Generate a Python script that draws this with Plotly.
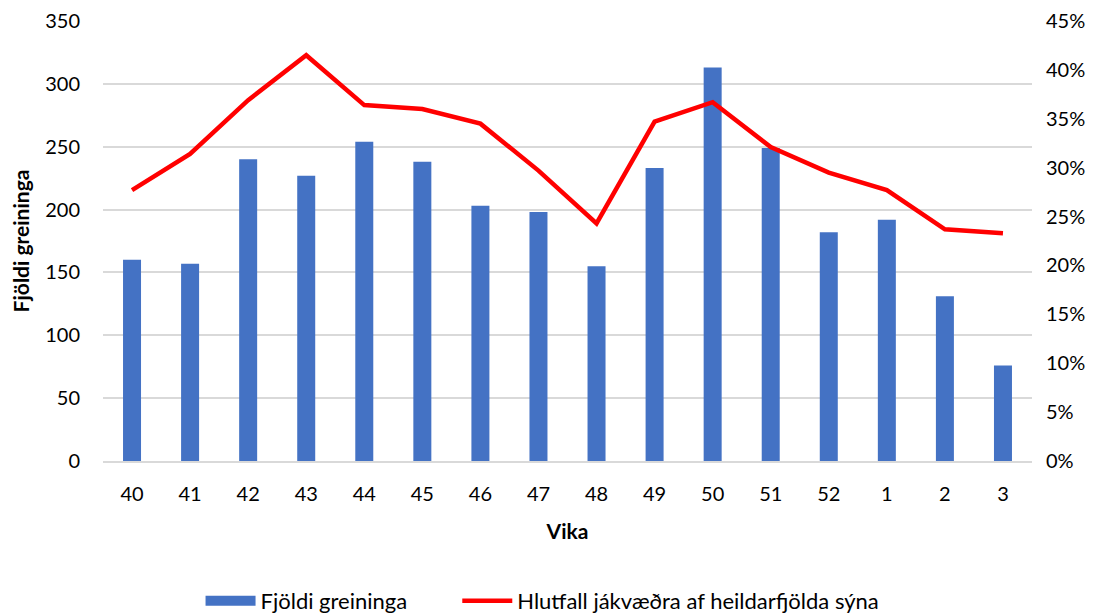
import plotly.graph_objects as go

weeks = ["40", "41", "42", "43", "44", "45", "46", "47", "48", "49", "50", "51", "52", "1", "2", "3"]
counts = [160, 157, 240, 227, 254, 238, 203, 198, 155, 233, 313, 249, 182, 192, 131, 76]
pos_share = [0.277, 0.314, 0.369, 0.415, 0.364, 0.360, 0.345, 0.297, 0.243, 0.347, 0.367, 0.321, 0.295, 0.277, 0.237, 0.233]

left_ticks = [0, 50, 100, 150, 200, 250, 300, 350]
right_ticks = [0, 0.05, 0.10, 0.15, 0.20, 0.25, 0.30, 0.35, 0.40, 0.45]

FONT = "Lato"
BLUE = "#4472C4"
RED = "#FF0000"
PAD = "\u00a0" * 8

fig = go.Figure()
fig.add_trace(go.Bar(x=weeks, y=counts, name="Fjöldi greininga", showlegend=False,
                     marker=dict(color=BLUE, line=dict(width=0))))
# legend-only entry giving the wide rectangular swatch
fig.add_trace(go.Scatter(x=[None], y=[None], name="Fjöldi greininga" + PAD, mode="lines",
                         line=dict(color=BLUE, width=14)))
fig.add_trace(go.Scatter(x=weeks, y=pos_share, name="Hlutfall jákvæðra af heildarfjölda sýna",
                         mode="lines", yaxis="y2",
                         line=dict(color=RED, width=4.5)))

# page body has an 8px margin: figure is sized / offset to compensate
fig.update_layout(
    width=1090, height=605,
    margin=dict(l=95, r=66, t=13, b=152),
    plot_bgcolor="white", paper_bgcolor="white",
    font=dict(family=FONT, size=20, color="#000000"),
    bargap=0.69,
    showlegend=True,
    legend=dict(orientation="h", x=0.105, xanchor="left", yref="container", y=0.02, yanchor="middle",
                font=dict(size=22), traceorder="normal", itemwidth=50),
    xaxis=dict(type="category", showgrid=False, showline=True, linecolor="#d9d9d9", linewidth=1.5,
               ticks="", tickfont=dict(size=20), automargin=False, ticklabelstandoff=14,
               title=dict(text="<b>Vika</b>", font=dict(size=21), standoff=21)),
    yaxis=dict(range=[0, 350], tickvals=left_ticks, showgrid=True, gridcolor="#d9d9d9", gridwidth=1.5,
               zeroline=False, ticks="", tickfont=dict(size=20), automargin=False, ticklabelstandoff=22,
               title=dict(text="<b>Fjöldi greininga</b>", font=dict(size=21), standoff=26)),
    yaxis2=dict(range=[0, 0.45], tickvals=right_ticks, tickformat=".0%", overlaying="y", side="right",
                showgrid=False, zeroline=False, ticks="", tickfont=dict(size=20), automargin=False,
                ticklabelstandoff=13),
)

fig.write_html("out.html")
